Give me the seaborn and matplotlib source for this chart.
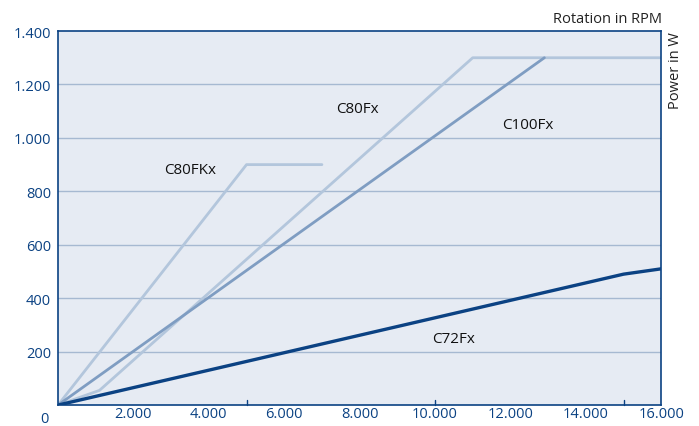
import pandas as pd
import numpy as np
import matplotlib.pyplot as plt
import seaborn as sns

# --------------------------------------------
# DATA
# --------------------------------------------

c80fkx_rpm = [0, 5000, 7000]
c80fkx_power = [0, 900, 900]

c80fx_rpm = [0, 1100, 11000, 16000]
c80fx_power = [0, 55, 1300, 1300]

c100fx_rpm = [0, 12900]
c100fx_power = [0, 1300]

c72fx_rpm = [0, 15000, 16000]
c72fx_power = [0, 490, 510]

series_names = ["C80FKx", "C80Fx", "C100Fx", "C72Fx"]
series_colors = ["#b3c6dc", "#b3c6dc", "#7f9dc2", "#0b4283"]
series_widths = [2.0, 2.0, 2.0, 2.4]

label_x = [3500, 7950, 12450, 10500]
label_y = [880, 1110, 1050, 250]

y_ticks = [200, 400, 600, 800, 1000, 1200, 1400]
x_ticks = [2000, 4000, 6000, 8000, 10000, 12000, 14000, 16000]


def fmt(v):
    return f"{v:,}".replace(",", ".")


frames = []
for name, xs, ys in zip(series_names,
                        [c80fkx_rpm, c80fx_rpm, c100fx_rpm, c72fx_rpm],
                        [c80fkx_power, c80fx_power, c100fx_power, c72fx_power]):
    frames.append(pd.DataFrame({"rpm": xs, "power": ys, "motor": name}))
df = pd.concat(frames, ignore_index=True)

# --------------------------------------------
# PLOT
# --------------------------------------------

sns.set_style("white")
plt.rcParams['font.family'] = ['Open Sans', 'DejaVu Sans']

navy = "#0b4283"
fs = 10.5
fig = plt.figure(figsize=(6.99, 4.27), dpi=100)
ax = fig.add_axes([0.083, 0.049, 0.863, 0.876])
ax.set_facecolor("#e6ebf3")

# grid lines
for yv in y_ticks[:-1]:
    ax.axhline(yv, color="#a6b9d1", lw=1.0, zorder=1)

for name, col, lw in zip(series_names, series_colors, series_widths):
    sns.lineplot(data=df[df["motor"] == name], x="rpm", y="power",
                 color=col, lw=lw, ax=ax, estimator=None, sort=False,
                 zorder=3 if name == "C72Fx" else 2)

for name, lx, ly in zip(series_names, label_x, label_y):
    ax.text(lx, ly, name, fontsize=11, color="#111111", ha="center", va="center")

ax.set_xlim(0, 16000)
ax.set_ylim(0, 1400)
ax.set_xticks(x_ticks)
ax.set_xticklabels([fmt(v) for v in x_ticks], color=navy, fontsize=fs)
ax.set_yticks(y_ticks)
ax.set_yticklabels([fmt(v) for v in y_ticks], color=navy, fontsize=fs)
ax.tick_params(axis="x", length=0, pad=1)
ax.tick_params(axis="y", length=0, pad=5)
ax.set_xlabel("")
ax.set_ylabel("")

# small inward ticks at the bottom
for xv in [5000, 10000, 15000]:
    ax.plot([xv, xv], [0, 20], color=navy, lw=1.0, zorder=4, clip_on=False)

for s in ax.spines.values():
    s.set_visible(True)
    s.set_color(navy)
    s.set_linewidth(1.2)

fig.text(0.064, 0.017, "0", color=navy, fontsize=fs, ha="center", va="center")
fig.text(0.947, 0.955, "Rotation in RPM", fontsize=10.5, color="#222222",
         ha="right", va="center")
fig.text(0.967, 0.835, "Power in W", fontsize=10.5, color="#222222",
         rotation=90, ha="center", va="center")

plt.savefig("out.png", dpi=100)
